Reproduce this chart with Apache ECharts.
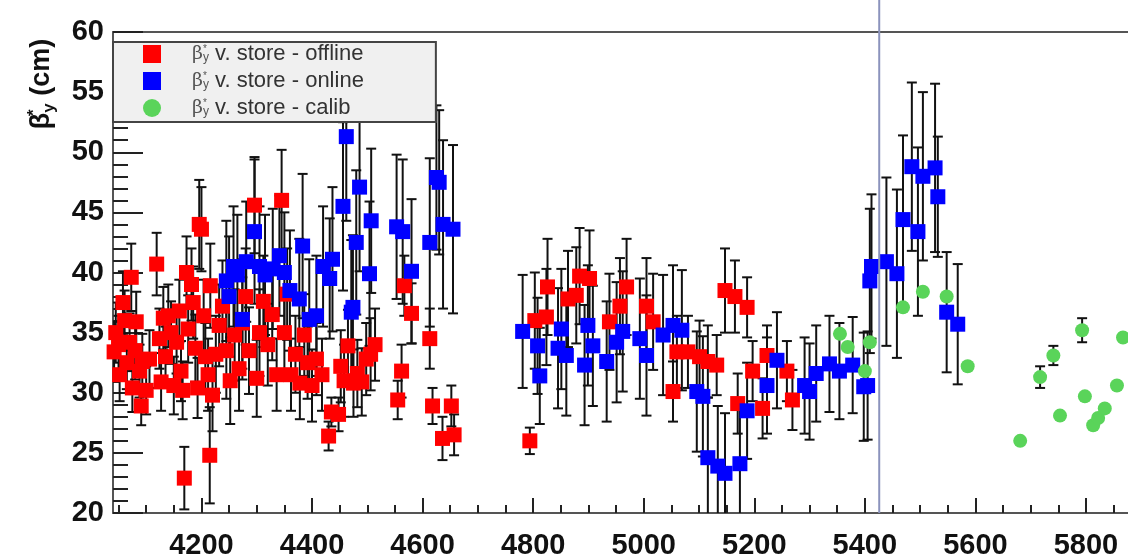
<!DOCTYPE html>
<html>
<head>
<meta charset="utf-8">
<script src="https://cdn.jsdelivr.net/npm/echarts@6/dist/echarts.min.js"></script>
<style>
  html, body { margin: 0; padding: 0; background: #ffffff; }
  #chart { width: 1128px; height: 560px; }
</style>
</head>
<body>
<div id="chart"></div>
<script>
// Axis ranges
const X_MIN = 4040, X_MAX = 5876;
const Y_MIN = 20, Y_MAX = 60;
// Store number where the vertical reference line sits
const REF_STORE = 5426;

// Series names
const seriesNames = ['offline', 'online', 'calib'];

// [store, beta*_y (cm), error]
const offline = [
  [4042,33.4,2.5],[4045,35.0,2.5],[4050,34.0,2.4],[4052,31.5,2.2],[4058,37.5,2.6],[4061,36.0,2.5],
  [4065,32.5,2.2],[4070,34.2,2.4],[4073,39.6,2.8],[4075,30.4,2.0],[4080,33.5,2.4],[4082,35.9,2.5],
  [4088,31.8,2.2],[4091,28.9,1.6],[4093,32.6,2.3],[4100,30.2,2.0],[4106,32.8,2.4],[4119,40.7,2.6],
  [4124,34.5,2.5],[4127,30.9,2.4],[4131,36.2,2.6],[4135,33.0,2.5],[4140,36.4,2.6],[4145,35.0,2.6],
  [4150,30.6,2.4],[4155,34.2,2.6],[4160,36.8,2.6],[4163,31.8,2.5],[4166,30.2,2.4],[4169,22.9,2.6],
  [4173,40.0,3.0],[4176,35.3,2.8],[4182,39.0,3.0],[4185,37.5,3.0],[4189,33.7,2.8],[4193,30.4,2.5],
  [4196,44.0,3.7],[4200,43.6,3.5],[4204,36.4,3.0],[4207,33.0,2.8],[4212,31.5,3.0],[4215,24.8,4.0],
  [4216,38.9,3.5],[4220,29.8,3.0],[4226,33.2,3.2],[4232,35.6,3.4],[4238,37.2,3.8],[4245,33.5,4.0],
  [4252,31.0,3.6],[4260,34.8,3.8],[4268,32.0,3.5],[4274,35.8,3.8],[4280,38.0,4.0],[4286,33.5,3.6],
  [4296,45.6,4.0],[4300,31.2,3.2],[4305,35.0,3.6],[4312,37.6,3.8],[4320,34.0,3.4],[4328,36.5,3.8],
  [4336,31.5,3.0],[4345,46.0,4.2],[4350,35.0,3.6],[4355,38.2,3.8],[4362,31.5,3.0],[4370,33.2,3.2],
  [4378,30.8,3.0],[4386,34.8,3.4],[4392,32.5,3.0],[4400,30.6,3.0],[4408,32.8,3.0],[4418,31.5,3.0],
  [4430,26.4,1.2],[4435,28.4,1.2],[4448,28.2,1.4],[4452,32.2,3.0],[4458,31.0,3.0],[4465,33.9,3.0],
  [4475,30.8,2.8],[4482,31.6,2.8],[4490,30.9,2.8],[4498,32.8,3.0],[4506,33.2,3.0],[4514,34.0,3.0],
  [4555,29.4,1.6],[4562,31.8,2.2],[4567,38.9,2.5],[4580,36.6,2.5],[4613,34.5,2.5],[4618,28.9,1.5],
  [4636,26.2,1.8],[4652,28.9,1.7],[4657,26.5,1.7],
  [4794,26.0,1.1],[4803,36.0,4.0],[4824,36.3,4.0],[4826,38.8,4.0],[4863,37.8,4.0],[4878,38.1,4.0],
  [4884,39.7,4.0],[4902,39.5,4.0],[4938,35.9,4.0],[4957,37.2,4.0],[4969,38.8,4.0],[5005,37.2,4.0],
  [5017,35.9,4.0],[5053,30.1,2.5],[5060,33.4,3.0],[5080,33.4,3.0],[5101,33.0,3.0],[5116,32.6,3.0],
  [5132,32.3,2.5],[5147,38.5,3.5],[5165,38.0,3.0],[5187,37.1,2.5],[5170,29.1,2.5],[5197,31.8,2.5],
  [5215,28.7,2.5],[5223,33.1,2.5],[5259,31.8,2.5],[5269,29.4,2.5]
];

const online = [
  [4245,39.3,5],[4250,38.0,5],[4258,40.5,5],[4265,39.8,5],[4274,36.1,5],[4281,40.9,5],
  [4296,43.4,6],[4305,40.5,5],[4315,39.8,5],[4329,40.3,5],[4341,41.4,5],[4350,40.0,5],
  [4360,38.5,5],[4377,37.8,5],[4383,42.2,6],[4395,36.1,5],[4408,36.4,5],[4420,40.5,5],
  [4432,39.5,5],[4437,41.1,6],[4456,45.5,7],[4462,51.3,7],[4471,36.7,6],[4474,37.1,6],
  [4480,42.5,6],[4486,47.1,7],[4504,39.9,6],[4507,44.3,6],[4553,43.8,6],[4564,43.4,6],
  [4580,40.1,6],[4613,42.5,7],[4625,47.9,6],[4630,47.5,6],[4637,44.0,7],[4655,43.6,7],
  [4781,35.1,4.7],[4808,33.9,4],[4812,31.4,4],[4845,33.7,5],[4851,35.3,5],[4860,33.1,5],
  [4893,32.3,5],[4899,35.6,5],[4908,33.9,5],[4933,32.6,5],[4951,34.2,5],[4962,35.1,5],
  [4993,34.5,5],[5005,33.1,5],[5035,34.8,5],[5053,35.6,5],[5069,35.2,5],[5096,30.1,5],
  [5107,29.7,5],[5116,24.6,5],[5134,23.9,5],[5147,23.3,5],[5174,24.1,5],[5187,28.5,4],
  [5223,30.6,4],[5241,32.7,4],[5291,30.6,4],[5300,30.1,4],[5312,31.6,4],[5336,32.4,4],
  [5354,31.8,4],[5378,32.3,4],[5398,30.5,4.5],[5405,30.6,4.5],[5409,39.3,6],[5412,40.5,6],
  [5439,40.9,7],[5458,39.9,7],[5469,44.4,7],[5485,48.8,7],[5496,43.4,7],[5505,48.0,7],
  [5527,48.7,7],[5532,46.3,5],[5548,36.7,5],[5568,35.7,5]
];

const calib = [
  [5355,34.9,0],[5369,33.8,0],[5400,31.8,0],[5409,34.2,0],[5469,37.1,0],[5505,38.4,0],
  [5548,38.0,0],[5586,32.2,0],[5681,26.0,0],[5717,31.3,0.9],[5741,33.1,0.8],[5753,28.1,0],
  [5793,35.2,1.0],[5798,29.7,0],[5813,27.3,0],[5822,27.9,0],[5834,28.7,0],[5856,30.6,0],
  [5867,34.6,0]
];

// Tick positions on the store axis
const xMajorTicks = [4200, 4400, 4600, 4800, 5000, 5200, 5400, 5600, 5800];
const xMinorTicks = [4050, 4100, 4150, 4250, 4300, 4350, 4450, 4500, 4550, 4650, 4700, 4750,
  4850, 4900, 4950, 5050, 5100, 5150, 5250, 5300, 5350, 5450, 5500, 5550, 5650, 5700, 5750, 5850];
const yTickStep = 5;

const COLORS = { offline: '#ff0000', online: '#0000ff', calib: '#5ad45a' };
const FONT = 'Liberation Sans, Arial, sans-serif';

const chart = echarts.init(document.getElementById('chart'), null, { renderer: 'canvas' });

function errorBars(rows, z) {
  return {
    type: 'custom',
    xAxisIndex: 0, yAxisIndex: 0,
    clip: true, silent: true, z: z,
    data: rows.filter(r => r[2] > 0).map(r => [r[0], r[1] - r[2], r[1] + r[2]]),
    encode: { x: 0, y: [1, 2] },
    renderItem(params, api) {
      const x = api.value(0);
      const lo = api.coord([x, api.value(1)]);
      const hi = api.coord([x, api.value(2)]);
      const cw = 5;
      const st = { stroke: '#111', lineWidth: 2 };
      return {
        type: 'group',
        children: [
          { type: 'line', shape: { x1: lo[0], y1: lo[1], x2: hi[0], y2: hi[1] }, style: st },
          { type: 'line', shape: { x1: lo[0] - cw, y1: lo[1], x2: lo[0] + cw, y2: lo[1] }, style: st },
          { type: 'line', shape: { x1: hi[0] - cw, y1: hi[1], x2: hi[0] + cw, y2: hi[1] }, style: st }
        ]
      };
    }
  };
}

function legendLabel(name) {
  return '{p|}{g|β}{s|*}{u|y}{t| v. store - ' + name + '}';
}

const option = {
  animation: false,
  backgroundColor: '#ffffff',
  grid: { left: 113, right: 0, top: 32, bottom: 45, containLabel: false },
  legend: {
    left: 113, top: 42,
    orient: 'vertical',
    padding: [1, 72, 3, 30],
    itemGap: 5,
    itemWidth: 18, itemHeight: 18,
    backgroundColor: '#f0f0f0',
    borderColor: '#444', borderWidth: 2,
    selectedMode: false,
    data: [
      { name: seriesNames[0], icon: 'rect' },
      { name: seriesNames[1], icon: 'rect' },
      { name: seriesNames[2], icon: 'circle' }
    ],
    formatter: legendLabel,
    textStyle: {
      rich: {
        p: { width: 26, lineHeight: 20 },
        g: { fontFamily: 'DejaVu Serif, serif', fontSize: 19, color: '#555', lineHeight: 20 },
        s: { fontFamily: FONT, fontSize: 10, color: '#555', width: 0, lineHeight: 8, verticalAlign: 'top' },
        u: { fontFamily: FONT, fontSize: 12, color: '#555', lineHeight: 10, verticalAlign: 'bottom' },
        t: { fontFamily: FONT, fontSize: 22, color: '#333', lineHeight: 20 }
      }
    }
  },
  xAxis: [
    {
      type: 'value', min: X_MIN, max: X_MAX, position: 'bottom',
      axisLine: { show: true, onZero: false, lineStyle: { color: '#555', width: 2 } },
      axisTick: { show: true, inside: true, length: 15, customValues: xMajorTicks,
        lineStyle: { color: '#222', width: 2 } },
      axisLabel: {
        margin: 18, fontFamily: FONT, fontSize: 29, fontWeight: 'bold', color: '#111',
        customValues: xMajorTicks,
        formatter: v => String(v)
      },
      splitLine: { show: false }
    },
    {
      type: 'value', min: X_MIN, max: X_MAX, position: 'bottom',
      axisLine: { show: false, onZero: false },
      axisTick: { show: true, inside: true, length: 8, customValues: xMinorTicks,
        lineStyle: { color: '#222', width: 2 } },
      axisLabel: { show: false }, splitLine: { show: false }
    },
    {
      type: 'value', min: X_MIN, max: X_MAX, position: 'top',
      axisLine: { show: true, onZero: false, lineStyle: { color: '#555', width: 2 } },
      axisTick: { show: false }, axisLabel: { show: false }, splitLine: { show: false }
    }
  ],
  yAxis: [
    {
      type: 'value', min: Y_MIN, max: Y_MAX, interval: yTickStep,
      axisLine: { show: true, onZero: false, lineStyle: { color: '#555', width: 2 } },
      axisTick: { show: true, inside: true, length: 30, lineStyle: { color: '#222', width: 2 } },
      minorTick: { show: true, splitNumber: 5, length: 15, lineStyle: { color: '#222', width: 2 } },
      axisLabel: { margin: 9, fontFamily: FONT, fontSize: 29, fontWeight: 'bold', color: '#111' },
      splitLine: { show: false }
    }
  ],
  series: [
    errorBars(offline, 2),
    {
      name: seriesNames[0], type: 'scatter', xAxisIndex: 0, yAxisIndex: 0, z: 2,
      symbol: 'rect', symbolSize: 15, itemStyle: { color: COLORS.offline, opacity: 1 },
      data: offline.map(r => [r[0], r[1]])
    },
    errorBars(online, 2),
    {
      name: seriesNames[1], type: 'scatter', xAxisIndex: 0, yAxisIndex: 0, z: 2,
      symbol: 'rect', symbolSize: 15, itemStyle: { color: COLORS.online, opacity: 1 },
      data: online.map(r => [r[0], r[1]])
    },
    errorBars(calib, 2),
    {
      name: seriesNames[2], type: 'scatter', xAxisIndex: 0, yAxisIndex: 0, z: 2,
      symbol: 'circle', symbolSize: 14, itemStyle: { color: COLORS.calib, opacity: 1 },
      data: calib.map(r => [r[0], r[1]])
    }
  ]
};

chart.setOption(option);

// Vertical reference line and rotated y-axis title, positioned through the axis scales
const refX = chart.convertToPixel({ xAxisIndex: 0 }, REF_STORE);
const baseY = chart.convertToPixel({ yAxisIndex: 0 }, Y_MIN);
chart.setOption({
  graphic: [
    {
      type: 'line', z: 10, silent: true,
      shape: { x1: refX, y1: 0, x2: refX, y2: baseY },
      style: { stroke: '#8b93bd', lineWidth: 2 }
    },
    {
      type: 'text', x: 42, y: 84, rotation: Math.PI / 2, z: 10, silent: true,
      style: {
        text: '{g|β}{s|*}{u|y}{t| (cm)}',
        align: 'center', verticalAlign: 'middle',
        rich: {
          g: { fontFamily: FONT, fontSize: 27, fontWeight: 'bold', fill: '#111', lineHeight: 32 },
          s: { fontFamily: FONT, fontSize: 17, fontWeight: 'bold', fill: '#111', width: 0, lineHeight: 12, verticalAlign: 'top' },
          u: { fontFamily: FONT, fontSize: 17, fontWeight: 'bold', fill: '#111', lineHeight: 14, verticalAlign: 'bottom' },
          t: { fontFamily: FONT, fontSize: 27, fontWeight: 'bold', fill: '#111', lineHeight: 32 }
        }
      }
    }
  ]
});
</script>
</body>
</html>
